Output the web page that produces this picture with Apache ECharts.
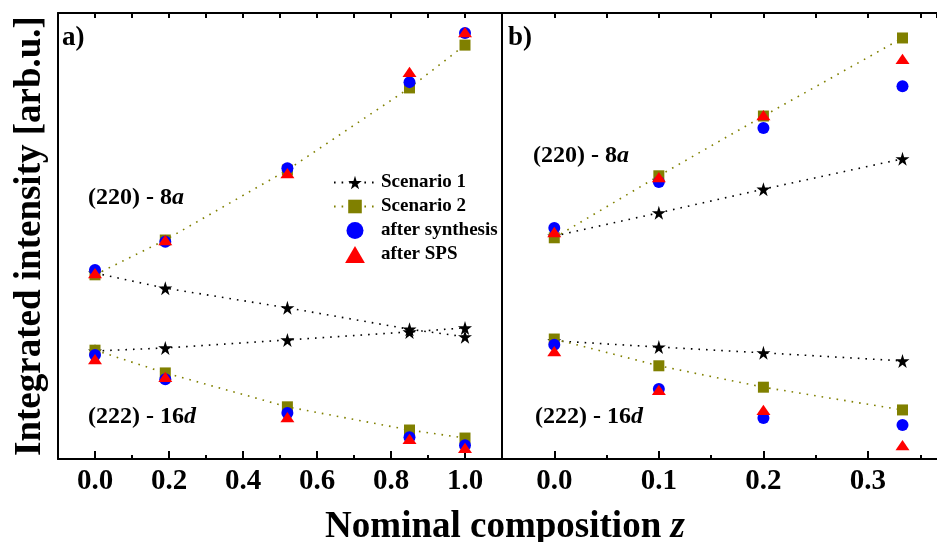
<!DOCTYPE html>
<html>
<head>
<meta charset="utf-8">
<script src="https://cdn.jsdelivr.net/npm/echarts@6/dist/echarts.min.js"></script>
<style>
  html, body { margin: 0; padding: 0; background: #fff; }
  #chart { width: 937px; height: 542px; }
</style>
</head>
<body>
<div id="chart"></div>
<script>
// composition values
const zA = [0.0, 0.19, 0.52, 0.85, 1.0]
const zB = [0.0, 0.1, 0.2, 0.333]

// panel a) intensities, (220) - 8a
const a220Scen1 = [41.7, 38.3, 33.9, 29.1, 27.4]
const a220Scen2 = [41.3, 49.1, 64.8, 83.2, 92.8]
const a220Synth = [42.4, 48.7, 65.2, 84.5, 95.5]
const a220Sps = [41.7, 49.1, 64.1, 86.8, 95.7]
// panel a) intensities, (222) - 16d
const a222Scen1 = [24.2, 24.9, 26.7, 28.5, 29.4]
const a222Scen2 = [24.4, 19.3, 11.7, 6.5, 4.7]
const a222Synth = [23.3, 17.9, 10.3, 4.9, 3.1]
const a222Sps = [22.4, 18.4, 9.4, 4.5, 2.5]

// panel b) intensities, (220) - 8a
const b220Scen1 = [50.0, 55.2, 60.5, 67.3]
const b220Scen2 = [49.6, 63.5, 76.9, 94.4]
const b220Synth = [51.8, 62.1, 74.2, 83.6]
const b220Sps = [50.9, 63.2, 77.1, 89.7]
// panel b) intensities, (222) - 16d
const b222Scen1 = [26.5, 25.1, 23.8, 22.0]
const b222Scen2 = [26.9, 20.9, 16.1, 11.0]
const b222Synth = [25.6, 15.7, 9.2, 7.6]
const b222Sps = [24.2, 15.5, 11.0, 3.1]

// tick labels
const ticksA = [0.0, 0.2, 0.4, 0.6, 0.8, 1.0]
const minorA = [0.1, 0.3, 0.5, 0.7, 0.9]
const ticksB = [0.0, 0.1, 0.2, 0.3]
const minorB = [0.05, 0.15, 0.25, 0.35]

const FONT = '"Liberation Serif", "Times New Roman", serif'
const STAR = 'path://M50,0 L61,35 L98,35 L68,57 L79,91 L50,70 L21,91 L32,57 L2,35 L39,35 Z'
const TRI = 'path://M7,0 L14,12 L0,12 Z'

const pair = (xs, ys) => xs.map((x, i) => [x, ys[i]])

const chart = echarts.init(document.getElementById('chart'))

function bottomAxis (grid, min, max, ticks) {
  return {
    gridIndex: grid, type: 'value', position: 'bottom', min: min, max: max,
    axisLine: { show: true, onZero: false, lineStyle: { color: '#000', width: 2 } },
    axisTick: { show: true, inside: true, length: 8, customValues: ticks, lineStyle: { color: '#000', width: 2 } },
    axisLabel: {
      show: true, customValues: ticks, margin: 8,
      fontFamily: FONT, fontWeight: 'bold', fontSize: 29, color: '#000',
      formatter: v => v.toFixed(1)
    },
    splitLine: { show: false }
  }
}
function minorAxis (grid, min, max, ticks) {
  return {
    gridIndex: grid, type: 'value', position: 'bottom', min: min, max: max,
    axisLine: { show: false, onZero: false },
    axisTick: { show: true, inside: true, length: 4, customValues: ticks, lineStyle: { color: '#000', width: 2 } },
    axisLabel: { show: false },
    splitLine: { show: false }
  }
}
function topAxis (grid, min, max, step) {
  return {
    gridIndex: grid, type: 'value', position: 'top', min: min, max: max, interval: step,
    axisLine: { show: true, onZero: false, lineStyle: { color: '#000', width: 2 } },
    axisTick: { show: true, inside: true, length: 5, lineStyle: { color: '#000', width: 2 } },
    axisLabel: { show: false },
    splitLine: { show: false }
  }
}
function leftAxis (grid) {
  return {
    gridIndex: grid, type: 'value', min: 0, max: 100,
    axisLine: { show: true, onZero: false, lineStyle: { color: '#000', width: 2 } },
    axisTick: { show: false },
    axisLabel: { show: false },
    splitLine: { show: false }
  }
}

const lineSeries = (name, data, xi, yi, color, symbol, size) => ({
  name: name, type: 'line', xAxisIndex: xi, yAxisIndex: yi, data: data,
  symbol: symbol, symbolSize: size, showAllSymbol: true,
  itemStyle: { color: color },
  lineStyle: { color: color, width: 1.6, type: [1.6, 6] },
  z: 2
})
const dotSeries = (name, data, xi, yi, color, symbol, size, z) => ({
  name: name, type: 'scatter', xAxisIndex: xi, yAxisIndex: yi, data: data,
  symbol: symbol, symbolSize: size, symbolKeepAspect: true,
  itemStyle: { color: color, opacity: 1 },
  z: z
})

const S1 = 'Scenario 1', S2 = 'Scenario 2', SY = 'after synthesis', SP = 'after SPS'
const OLIVE = '#808000'

const series = [
  lineSeries(S1, pair(zA, a220Scen1), 0, 0, '#000', STAR, 14),
  lineSeries(S1, pair(zA, a222Scen1), 0, 0, '#000', STAR, 14),
  lineSeries(S2, pair(zA, a220Scen2), 0, 0, OLIVE, 'rect', 11),
  lineSeries(S2, pair(zA, a222Scen2), 0, 0, OLIVE, 'rect', 11),
  dotSeries(SY, pair(zA, a220Synth).concat(pair(zA, a222Synth)), 0, 0, '#0000ff', 'circle', 12, 3),
  dotSeries(SP, pair(zA, a220Sps).concat(pair(zA, a222Sps)), 0, 0, '#ff0000', TRI, [14, 12], 4),

  lineSeries(S1, pair(zB, b220Scen1), 3, 1, '#000', STAR, 14),
  lineSeries(S1, pair(zB, b222Scen1), 3, 1, '#000', STAR, 14),
  lineSeries(S2, pair(zB, b220Scen2), 3, 1, OLIVE, 'rect', 11),
  lineSeries(S2, pair(zB, b222Scen2), 3, 1, OLIVE, 'rect', 11),
  dotSeries(SY, pair(zB, b220Synth).concat(pair(zB, b222Synth)), 3, 1, '#0000ff', 'circle', 12, 3),
  dotSeries(SP, pair(zB, b220Sps).concat(pair(zB, b222Sps)), 3, 1, '#ff0000', TRI, [14, 12], 4)
]

const richLabel = (plain, ital) => ({
  text: '{n|' + plain + '}{i|' + ital + '}',
  rich: {
    n: { font: 'bold 24px ' + FONT, fill: '#000' },
    i: { font: 'italic bold 24px ' + FONT, fill: '#000' }
  },
  align: 'left', verticalAlign: 'middle'
})

const option = {
  animation: false,
  backgroundColor: '#fff',
  grid: [
    { left: 58, top: 13, width: 444, height: 446 },
    { left: 502, top: 13, right: 0, height: 446 }
  ],
  xAxis: [
    bottomAxis(0, -0.1, 1.1, ticksA),
    minorAxis(0, -0.1, 1.1, minorA),
    topAxis(0, -0.1, 1.1, 0.1),
    bottomAxis(1, -0.05, 0.366, ticksB),
    minorAxis(1, -0.05, 0.366, minorB),
    topAxis(1, -0.05, 0.366, 0.05)
  ],
  yAxis: [leftAxis(0), leftAxis(1)],
  legend: {
    orient: 'vertical', left: 328, top: 168,
    itemWidth: 42, itemHeight: 17, itemGap: 5,
    data: [S1, S2, SY, SP],
    textStyle: { fontFamily: FONT, fontWeight: 'bold', fontSize: 19, color: '#000' }
  },
  graphic: [
    { type: 'text', x: 62, y: 38, style: { text: 'a)', font: 'bold 27px ' + FONT, fill: '#000', align: 'left', verticalAlign: 'middle' } },
    { type: 'text', x: 508, y: 38, style: { text: 'b)', font: 'bold 27px ' + FONT, fill: '#000', align: 'left', verticalAlign: 'middle' } },
    { type: 'text', x: 88, y: 198, style: richLabel('(220) - 8', 'a') },
    { type: 'text', x: 88, y: 417, style: richLabel('(222) - 16', 'd') },
    { type: 'text', x: 533, y: 156, style: richLabel('(220) - 8', 'a') },
    { type: 'text', x: 535, y: 417, style: richLabel('(222) - 16', 'd') },
    {
      type: 'text', x: 30, y: 236, rotation: Math.PI / 2,
      style: { text: 'Integrated intensity [arb.u.]', font: 'bold 37px ' + FONT, fill: '#000', align: 'center', verticalAlign: 'middle' }
    },
    {
      type: 'text', x: 505, y: 527,
      style: {
        text: '{n|Nominal composition }{i|z}',
        rich: {
          n: { font: 'bold 37px ' + FONT, fill: '#000' },
          i: { font: 'italic bold 37px ' + FONT, fill: '#000' }
        },
        align: 'center', verticalAlign: 'middle'
      }
    }
  ],
  series: series
}
chart.setOption(option)
</script>
</body>
</html>
